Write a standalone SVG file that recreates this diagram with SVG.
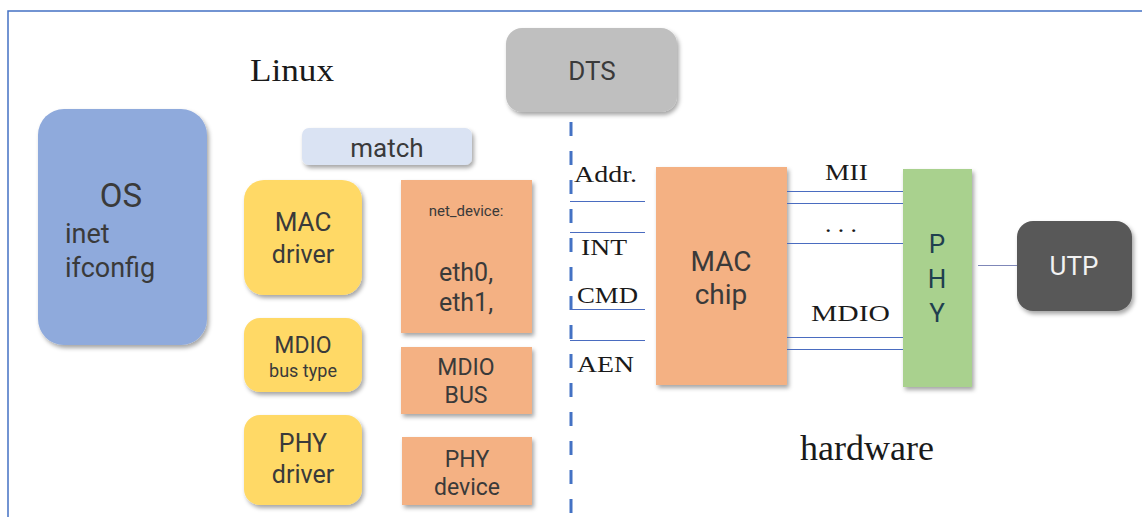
<svg xmlns="http://www.w3.org/2000/svg" width="1142" height="517" viewBox="0 0 1142 517">
<defs>
<filter id="sh" x="-20%" y="-20%" width="140%" height="140%">
<feDropShadow dx="2" dy="3" stdDeviation="2" flood-color="#000" flood-opacity="0.35"/>
</filter>
<style>
.s{font-family:Roboto,"Open Sans","Liberation Sans",sans-serif;fill:#3a3a3a;text-anchor:middle}
.l{text-anchor:start}
.r{font-family:"Liberation Serif",serif;fill:#1a1a1a}
.w{stroke:#4a6cc0;stroke-width:1.2;fill:none}
.os{fill:#8faadc}
.yl{fill:#ffd966}
.or{fill:#f4b183}
.ph{fill:#1f3f4f}
</style>
</defs>
<rect width="1142" height="517" fill="#fff"/>
<g id="frame"><polyline points="8,517 8,11 1142,11" fill="none" stroke="#4472c4" stroke-width="1.5"/></g>
<text class="r" x="250" y="81" font-size="31" textLength="84" lengthAdjust="spacingAndGlyphs">Linux</text>
<text class="r" x="800" y="460" font-size="35" textLength="134" lengthAdjust="spacingAndGlyphs">hardware</text>
<g id="os"><rect class="os" x="38" y="109" width="169" height="236" rx="26" filter="url(#sh)"/>
<text class="s" x="121" y="207" font-size="33">OS</text>
<text class="s l" x="65" y="243" font-size="27">inet</text>
<text class="s l" x="65" y="277" font-size="27">ifconfig</text></g>
<g id="dts"><rect x="506" y="28" width="171" height="84" rx="16" fill="#bfbfbf" filter="url(#sh)"/>
<text class="s" x="592" y="80" font-size="26">DTS</text></g>
<g id="match"><rect x="302" y="128" width="170" height="37" rx="7" fill="#dae3f3" filter="url(#sh)"/>
<text class="s" x="387" y="157" font-size="26">match</text></g>
<g id="macdrv"><rect class="yl" x="244" y="180" width="118" height="115" rx="20" filter="url(#sh)"/>
<text class="s" x="303" y="231" font-size="26">MAC</text>
<text class="s" x="303" y="263" font-size="25">driver</text></g>
<g id="mdiotype"><rect class="yl" x="244" y="318" width="118" height="74" rx="16" filter="url(#sh)"/>
<text class="s" x="303" y="353" font-size="23">MDIO</text>
<text class="s" x="303" y="377" font-size="18">bus type</text></g>
<g id="phydrv"><rect class="yl" x="244" y="415" width="118" height="90" rx="16" filter="url(#sh)"/>
<text class="s" x="303" y="452" font-size="25">PHY</text>
<text class="s" x="303" y="483" font-size="25">driver</text></g>
<g id="netdev"><rect class="or" x="401" y="180" width="131" height="153" filter="url(#sh)"/>
<text class="s" x="466" y="216" font-size="15">net_device:</text>
<text class="s" x="466" y="281" font-size="25">eth0,</text>
<text class="s" x="466" y="311" font-size="25">eth1,</text></g>
<g id="mdiobus"><rect class="or" x="401" y="347" width="131" height="67" filter="url(#sh)"/>
<text class="s" x="466" y="375" font-size="23">MDIO</text>
<text class="s" x="466" y="403" font-size="23">BUS</text></g>
<g id="phydev"><rect class="or" x="402" y="437" width="130" height="68" filter="url(#sh)"/>
<text class="s" x="467" y="467" font-size="23">PHY</text>
<text class="s" x="467" y="495" font-size="23">device</text></g>
<g id="macchip"><rect class="or" x="656" y="167" width="131" height="218" filter="url(#sh)"/>
<text class="s" x="721" y="271" font-size="28">MAC</text>
<text class="s" x="721" y="304" font-size="28">chip</text></g>
<g id="phy"><rect x="903" y="169" width="69" height="218" fill="#a9d18e" filter="url(#sh)"/>
<text class="s ph" x="937" y="253" font-size="26">P</text>
<text class="s ph" x="937" y="288" font-size="26">H</text>
<text class="s ph" x="937" y="322" font-size="26">Y</text></g>
<g id="utp"><rect x="1017" y="221" width="115" height="90" rx="16" fill="#595959" filter="url(#sh)"/>
<text class="s" x="1074" y="275" font-size="26" style="fill:#f2f2f2">UTP</text></g>
<g id="connectors">
<line x1="571" y1="113" x2="571" y2="517" stroke="#4472c4" stroke-width="3" stroke-dasharray="14,15" stroke-dashoffset="-9"/>
<line class="w" x1="570" y1="201.5" x2="645" y2="201.5"/>
<line class="w" x1="570" y1="232.5" x2="645" y2="232.5"/>
<line class="w" x1="570" y1="309.5" x2="645" y2="309.5"/>
<line class="w" x1="570" y1="340.5" x2="645" y2="340.5"/>
<line class="w" x1="787" y1="191.5" x2="903" y2="191.5"/>
<line class="w" x1="787" y1="203.5" x2="903" y2="203.5"/>
<line class="w" x1="787" y1="243.5" x2="903" y2="243.5"/>
<line class="w" x1="787" y1="337.5" x2="903" y2="337.5"/>
<line class="w" x1="787" y1="349.5" x2="903" y2="349.5"/>
<line x1="978" y1="265.5" x2="1017" y2="265.5" stroke="#7f87b8" stroke-width="1.2"/>
</g>
<g id="labels">
<text class="r" x="574" y="182" font-size="24" textLength="63" lengthAdjust="spacingAndGlyphs">Addr.</text>
<text class="r" x="581" y="255" font-size="24" textLength="46" lengthAdjust="spacingAndGlyphs">INT</text>
<text class="r" x="577" y="303" font-size="24" textLength="61" lengthAdjust="spacingAndGlyphs">CMD</text>
<text class="r" x="577" y="372" font-size="24" textLength="57" lengthAdjust="spacingAndGlyphs">AEN</text>
<text class="r" x="825" y="180" font-size="23" textLength="43" lengthAdjust="spacingAndGlyphs">MII</text>
<text class="r" x="825" y="232" font-size="23" textLength="32" lengthAdjust="spacingAndGlyphs">. . .</text>
<text class="r" x="811" y="321" font-size="23" textLength="79" lengthAdjust="spacingAndGlyphs">MDIO</text>
</g>
</svg>
